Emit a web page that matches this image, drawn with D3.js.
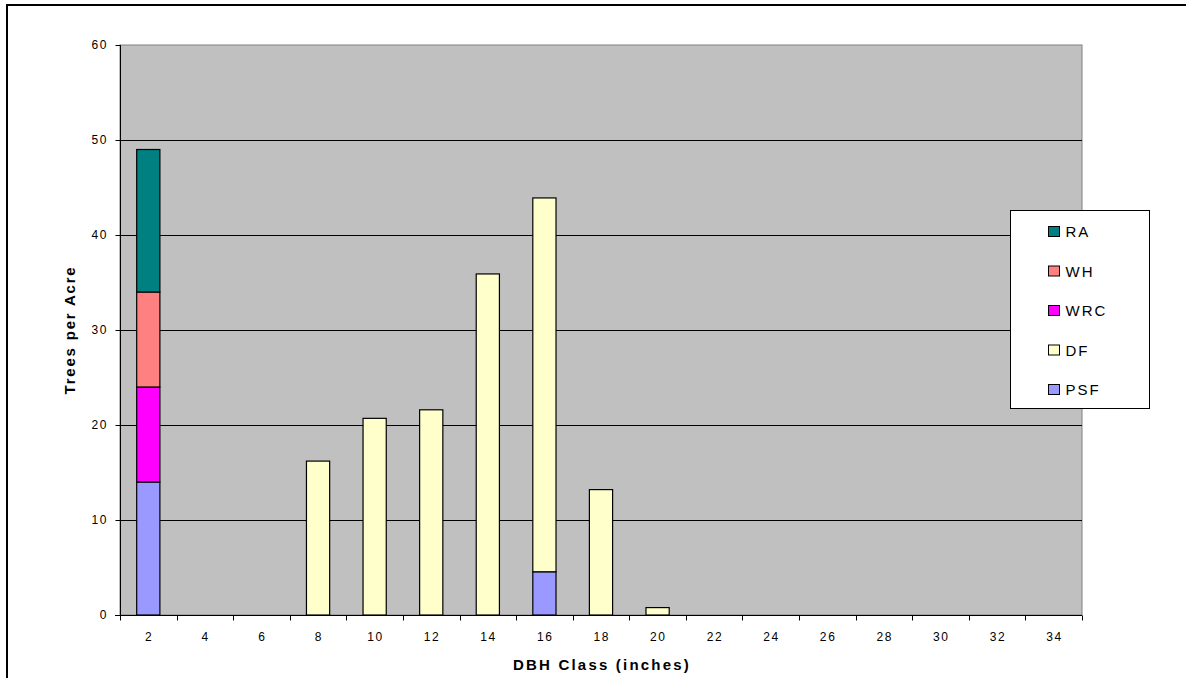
<!DOCTYPE html>
<html>
<head>
<meta charset="utf-8">
<script src="https://cdn.jsdelivr.net/npm/d3@7"></script>
<style>
  html, body { margin: 0; padding: 0; background: #fff; }
  svg { display: block; font-family: "Liberation Sans", Arial, sans-serif; }
</style>
</head>
<body>
<svg id="chart" width="1186" height="678"></svg>
<script>
// DBH classes (inches)
const categories = ["2","4","6","8","10","12","14","16","18","20","22","24","26","28","30","32","34"];
// Trees per acre by species, stacked bottom to top
const PSF = [14, 0, 0, 0, 0, 0, 0, 4.55, 0, 0, 0, 0, 0, 0, 0, 0, 0];
const DF  = [0, 0, 0, 16.2, 20.7, 21.6, 35.9, 39.35, 13.2, 0.78, 0, 0, 0, 0, 0, 0, 0];
const WRC = [10, 0, 0, 0, 0, 0, 0, 0, 0, 0, 0, 0, 0, 0, 0, 0, 0];
const WH  = [10, 0, 0, 0, 0, 0, 0, 0, 0, 0, 0, 0, 0, 0, 0, 0, 0];
const RA  = [15, 0, 0, 0, 0, 0, 0, 0, 0, 0, 0, 0, 0, 0, 0, 0, 0];
const seriesNames = ["PSF", "DF", "WRC", "WH", "RA"];
const seriesColors = ["#9999ff", "#ffffcc", "#ff00ff", "#ff8080", "#008080"];
const yTicks = [0, 10, 20, 30, 40, 50, 60];

const svg = d3.select("#chart");
const plot = { left: 120, top: 45, right: 1082, bottom: 615 };
const tickSpacing = 1.6;

// outer chart frame
svg.append("rect")
  .attr("x", 7).attr("y", 5).attr("width", 1200).attr("height", 700)
  .attr("fill", "#fff").attr("stroke", "#000").attr("stroke-width", 2);

const x = d3.scaleBand().domain(categories).range([plot.left, plot.right]).paddingInner(0).paddingOuter(0);
const y = d3.scaleLinear().domain([0, 60]).range([plot.bottom, plot.top]);

// plot area background
svg.append("rect")
  .attr("x", plot.left).attr("y", plot.top)
  .attr("width", plot.right - plot.left).attr("height", plot.bottom - plot.top)
  .attr("fill", "#c0c0c0").attr("stroke", "#808080").attr("stroke-width", 1);

// horizontal gridlines
svg.append("g").selectAll("line")
  .data(yTicks.filter(d => d > 0 && d < 60))
  .join("line")
  .attr("x1", plot.left).attr("x2", plot.right)
  .attr("y1", d => Math.round(y(d)) + 0.5).attr("y2", d => Math.round(y(d)) + 0.5)
  .attr("stroke", "#000").attr("stroke-width", 1);

// stacked bars
const table = categories.map((c, i) => {
  const row = { cat: c };
  row.PSF = PSF[i]; row.DF = DF[i]; row.WRC = WRC[i]; row.WH = WH[i]; row.RA = RA[i];
  return row;
});
const stacked = d3.stack().keys(seriesNames)(table);
const barW = x.bandwidth() * 0.41;

svg.append("g").selectAll("g")
  .data(stacked)
  .join("g")
  .attr("fill", (d, i) => seriesColors[i])
  .selectAll("rect")
  .data(d => d.filter(s => s[1] - s[0] > 0))
  .join("rect")
  .attr("x", d => x(d.data.cat) + (x.bandwidth() - barW) / 2)
  .attr("width", barW)
  .attr("y", d => y(d[1]))
  .attr("height", d => y(d[0]) - y(d[1]))
  .attr("stroke", "#000").attr("stroke-width", 1.2);

// y axis
const yAxis = d3.axisLeft(y).tickValues(yTicks).tickSize(5).tickPadding(9);
const gy = svg.append("g").attr("transform", `translate(${plot.left + 0.5},0)`).call(yAxis);
gy.select(".domain").attr("d", `M0,${plot.top}V${plot.bottom}`).attr("stroke", "#000");
gy.selectAll("text").attr("font-size", 12).attr("fill", "#000")
  .attr("letter-spacing", tickSpacing).attr("dx", tickSpacing);
gy.selectAll(".tick line").attr("stroke", "#000");

// x axis: ticks at category boundaries, labels centered in bands
const gx = svg.append("g").attr("transform", `translate(0,${plot.bottom + 0.5})`);
gx.append("line").attr("x1", plot.left - 5).attr("x2", plot.right).attr("y1", 0).attr("y2", 0).attr("stroke", "#000");
const boundaries = categories.map(c => x(c)).concat([plot.right]);
gx.selectAll("line.tk").data(boundaries).join("line").attr("class", "tk")
  .attr("x1", d => Math.round(d) + 0.5).attr("x2", d => Math.round(d) + 0.5)
  .attr("y1", 0).attr("y2", 5).attr("stroke", "#000");
gx.selectAll("text").data(categories).join("text")
  .attr("x", d => x(d) + x.bandwidth() / 2 + tickSpacing / 2)
  .attr("y", 25.5)
  .attr("text-anchor", "middle").attr("font-size", 12).attr("fill", "#000")
  .attr("letter-spacing", tickSpacing)
  .text(d => d);

// axis titles
svg.append("text")
  .attr("transform", `translate(75,${(plot.top + plot.bottom) / 2}) rotate(-90)`)
  .attr("text-anchor", "middle").attr("font-size", 15).attr("font-weight", "bold")
  .attr("letter-spacing", 1.8)
  .text("Trees per Acre");
svg.append("text")
  .attr("x", (plot.left + plot.right) / 2 + 1).attr("y", 670)
  .attr("text-anchor", "middle").attr("font-size", 15).attr("font-weight", "bold")
  .attr("letter-spacing", 2.2)
  .text("DBH Class (inches)");

// legend (top to bottom: reverse stack order)
const legend = svg.append("g");
legend.append("rect")
  .attr("x", 1010.5).attr("y", 210.5).attr("width", 139).attr("height", 198)
  .attr("fill", "#fff").attr("stroke", "#000").attr("stroke-width", 1);
const legendItems = seriesNames.map((n, i) => ({ name: n, color: seriesColors[i] })).reverse();
const li = legend.selectAll("g.item").data(legendItems).join("g").attr("class", "item")
  .attr("transform", (d, i) => `translate(1048.5,${231.5 + i * 39.5})`);
li.append("rect").attr("x", 0).attr("y", -5).attr("width", 11).attr("height", 10)
  .attr("fill", d => d.color).attr("stroke", "#000").attr("stroke-width", 1);
li.append("text").attr("x", 17).attr("y", 5.5)
  .attr("font-size", 15).attr("letter-spacing", 2).attr("fill", "#000")
  .text(d => d.name);
</script>
</body>
</html>
